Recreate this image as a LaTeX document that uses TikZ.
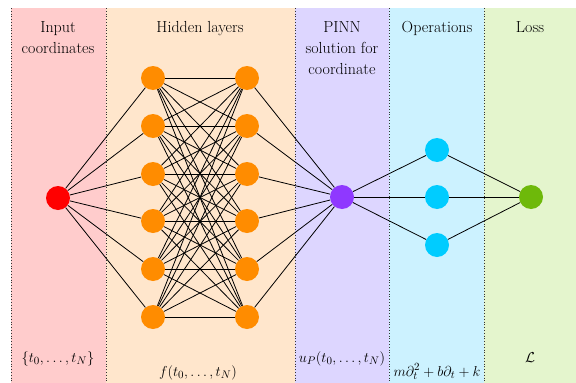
\documentclass[tikz,border=0pt]{standalone}
\definecolor{bandred}{RGB}{255,204,204}
\definecolor{bandorange}{RGB}{255,230,204}
\definecolor{bandviolet}{RGB}{221,214,255}
\definecolor{bandcyan}{RGB}{204,242,255}
\definecolor{bandgreen}{RGB}{228,245,205}
\definecolor{nred}{RGB}{255,0,0}
\definecolor{norange}{RGB}{255,140,0}
\definecolor{nviolet}{RGB}{143,56,255}
\definecolor{ncyan}{RGB}{0,204,255}
\definecolor{ngreen}{RGB}{110,185,10}
\begin{document}
\begin{tikzpicture}[x=1pt,y=-1pt,
  neuron/.style={circle,minimum size=24pt,inner sep=0pt,draw=none},
  link/.style={line width=0.8pt,black},
  divider/.style={dotted,line width=0.8pt,black!80},
  title/.style={anchor=base,inner sep=0pt,font=\fontsize{16}{21}\selectfont},
  formula/.style={anchor=base,inner sep=0pt,font=\fontsize{15}{18}\selectfont}]
\useasboundingbox (0,0) rectangle (576,383);

% column backgrounds
\fill[bandred]    (11,8)  rectangle (106,383);
\fill[bandorange] (106,8) rectangle (295,383);
\fill[bandviolet] (295,8) rectangle (389,383);
\fill[bandcyan]   (389,8) rectangle (484,383);
\fill[bandgreen]  (484,8) rectangle (576,383);
\foreach \x in {11,106,295,389,484}
  \draw[divider] (\x,8) -- (\x,383);

% column titles
\node[title] (tin1) at (58,32) {Input};
\node[title] (tin2) at (58,53) {coordinates};
\node[title] (thid) at (200,32) {Hidden layers};
\node[title] (tsol1) at (342,32) {PINN};
\node[title] (tsol2) at (342,53) {solution for};
\node[title] (tsol3) at (342,74) {coordinate};
\node[title] (tops) at (437,32) {Operations};
\node[title] (tloss) at (530,32) {Loss};

% neurons
\node[neuron,fill=nred] (in) at (58,198) {};
\foreach \i/\y in {1/78,2/126,3/174,4/221,5/269,6/317} {
  \node[neuron,fill=norange] (a\i) at (153,\y) {};
  \node[neuron,fill=norange] (b\i) at (247,\y) {};
}
\node[neuron,fill=nviolet] (out) at (342,197) {};
\node[neuron,fill=ncyan] (c1) at (437,150) {};
\node[neuron,fill=ncyan] (c2) at (437,197) {};
\node[neuron,fill=ncyan] (c3) at (437,245) {};
\node[neuron,fill=ngreen] (loss) at (531,197) {};

% connections
\foreach \i in {1,...,6} {
  \draw[link] (in) -- (a\i);
  \draw[link] (b\i) -- (out);
  \foreach \j in {1,...,6}
    \draw[link] (a\i) -- (b\j);
}
\foreach \k in {1,2,3} {
  \draw[link] (out) -- (c\k);
  \draw[link] (c\k) -- (loss);
}

% formulas
\node[formula] (fin) at (58,362) {$\{t_0, \ldots, t_N\}$};
\node[formula] (fhid) at (198,376) {$f(t_0, \ldots, t_N)$};
\node[formula] (fsol) at (342,362) {$u_P(t_0, \ldots, t_N)$};
\node[formula] (fops) at (437,376) {$m\partial_t^2 + b\partial_t + k$};
\node[formula] (floss) at (530,362) {$\mathcal{L}$};
\end{tikzpicture}
\end{document}
